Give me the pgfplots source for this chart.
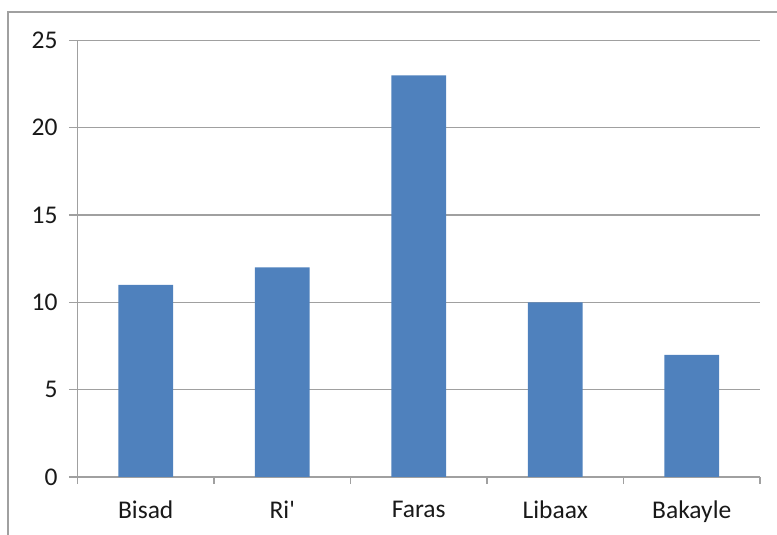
\documentclass[border=0pt]{standalone}
\usepackage{pgfplots}
\pgfplotsset{compat=1.18}
\usepackage{fontspec}
\setmainfont{Carlito}
\definecolor{barblue}{HTML}{4F81BD}
\definecolor{linegray}{HTML}{A0A0A0}

\begin{document}
\begin{tikzpicture}
% picture frame = 777 x 535, plot area corner at (0,0)
\useasboundingbox (-77.5bp,-58bp) rectangle (699.5bp,477bp);
\draw[linegray, line width=1.2bp] (-69.5bp,-80bp) -- (-69.5bp,465bp) -- (760bp,465bp);
\begin{axis}[
    scale only axis,
    width=682.5bp, height=436.5bp,
    xmin=-0.5, xmax=4.5,
    ymin=0, ymax=25,
    axis x line=bottom, axis y line=left,
    axis line style={-, linegray, line width=1.2bp},
    xtick={0,1,2,3,4},
    xticklabels={Bisad, Ri\textquotesingle, Faras, Libaax, Bakayle},
    minor xtick={-0.5,0.5,1.5,2.5,3.5,4.5},
    ytick={0,5,10,15,20,25},
    tick align=outside,
    major tick length=8.5bp,
    minor tick length=7bp,
    major x tick style={draw=none},
    minor x tick style={linegray, line width=1.2bp},
    y tick style={linegray, line width=1.2bp},
    ymajorgrids,
    major grid style={linegray, line width=1.2bp},
    tick label style={font=\fontsize{25.5bp}{30bp}\selectfont, text=black!90},
    /pgf/number format/assume math mode=true,
    xticklabel style={yshift=-12bp},
    yticklabel style={xshift=-8bp},
]
\addplot[ybar, bar width=54.6bp, fill=barblue, draw=none] coordinates {
    (0,11) (1,12) (2,23) (3,10) (4,7)
};
\end{axis}
\end{tikzpicture}
\end{document}
